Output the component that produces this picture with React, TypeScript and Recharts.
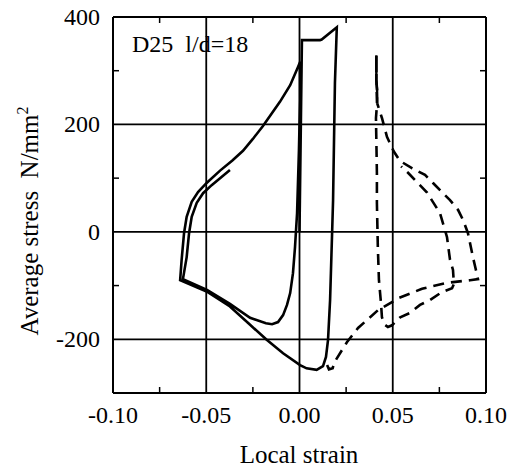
import { LineChart, Line, XAxis, YAxis, ReferenceLine } from 'recharts';

// solid loop (strain, stress) in drawing order
const solidStrain = [
  0.0, 0.0013, 0.011, 0.0119, 0.020, 0.019, 0.018, 0.0175, 0.0164, 0.0153, 0.0142, 0.0126, 0.0092, 0.0038,
  0.0003, -0.0088, -0.0176, -0.0265, -0.0373, -0.0498, -0.064,
  -0.0632, -0.0619, -0.0605, -0.0578, -0.0544, -0.0498, -0.0426, -0.036, -0.0303, -0.025, -0.0196, -0.0105, -0.005,
  -0.0008, 0.0003,
  0.0003, -0.0003, -0.0013, -0.0024, -0.0035, -0.005, -0.0067, -0.0088, -0.0115, -0.0147, -0.018, -0.0265,
  -0.0373, -0.0496, -0.0625,
  -0.0605, -0.0592, -0.0578, -0.0551, -0.0517, -0.0471, -0.0373,
];
const solidStress = [
  0, 357, 357, 358, 381, 277, 59, 0, -127, -201, -233, -250, -257, -254,
  -248, -226, -201, -173, -139, -111, -90,
  -52, -2, 28, 56, 74, 91, 114, 133, 151, 173, 197, 242, 273,
  307, 316,
  245, 152, 35, -28, -77, -114, -136, -155, -168, -172, -170, -160,
  -134, -108, -88,
  -47, -2, 28, 54, 72, 87, 115,
];

// dashed loop (strain, stress) in drawing order
const dashedStrain = [
  0.0148, 0.0158, 0.0178, 0.0185, 0.0255, 0.0314, 0.042, 0.0534, 0.0657, 0.079, 0.0914, 0.0957,
  0.0946, 0.093, 0.0903, 0.0877, 0.085, 0.0807, 0.0769, 0.0716, 0.0673, 0.0605, 0.0539, 0.0505,
  0.0469, 0.0442, 0.0416, 0.0416, 0.0412, 0.0412,
  0.0412, 0.0416, 0.041, 0.0415, 0.0415, 0.042, 0.0426, 0.0437, 0.0442, 0.0458, 0.0474, 0.0496,
  0.054, 0.0592, 0.0646, 0.070, 0.0764, 0.0818, 0.0828,
  0.0823, 0.0807, 0.0791, 0.0753, 0.0684, 0.0582, 0.0545,
];
const dashedStress = [
  -248, -256, -254, -244, -205, -179, -146, -123, -106, -95, -90, -88,
  -71, -47, -2, 22, 41, 59, 72, 91, 106, 118, 132, 150,
  177, 212, 240, 264, 283, 329,
  283, 240, 212, 110, 54, -28, -90, -133, -159, -173, -177, -174,
  -159, -151, -136, -127, -112, -105, -97,
  -71, -52, -10, 35, 73, 110, 122,
];

const xTicks = [-0.1, -0.075, -0.05, -0.025, 0, 0.025, 0.05, 0.075, 0.1];
const xLabels = [-0.1, -0.05, 0, 0.05, 0.1];
const yTicks = [-300, -200, -100, 0, 100, 200, 300, 400];
const yLabels = [400, 200, 0, -200];
const gridX = [-0.05, 0, 0.05];
const gridY = [200, 0, -200];

const solidData = solidStrain.map((x, i) => ({ x, y: solidStress[i] }));
const dashedData = dashedStrain.map((x, i) => ({ x, y: dashedStress[i] }));
// the top stretch of the dashed trace is drawn as one unbroken stroke
const dashedTopData = dashedData.slice(26, 30);

const W = 519;
const H = 468;
const TOP = 17;
const BOTTOM = 393;
const LEFT = 113;
const RIGHT = 486;
const FONT = '"Liberation Serif", "Times New Roman", serif';

function XTick(props: any) {
  const { x, payload } = props;
  const v = payload.value;
  if (xLabels.includes(v)) {
    return (
      <text x={x} y={BOTTOM + 30} textAnchor="middle" fontSize={24} fontFamily={FONT} fill="#000">
        {v.toFixed(2)}
      </text>
    );
  }
  return (
    <g stroke="#000" strokeWidth={1.5}>
      <line x1={x} x2={x} y1={BOTTOM} y2={BOTTOM - 6} />
      <line x1={x} x2={x} y1={TOP} y2={TOP + 6} />
    </g>
  );
}

function YTick(props: any) {
  const { y, payload } = props;
  const v = payload.value;
  if (yLabels.includes(v)) {
    return (
      <text x={LEFT - 13} y={y + 8} textAnchor="end" fontSize={24} fontFamily={FONT} fill="#000">
        {v}
      </text>
    );
  }
  if (v === -300) return <g />;
  return (
    <g stroke="#000" strokeWidth={1.5}>
      <line x1={LEFT} x2={LEFT + 6} y1={y} y2={y} />
      <line x1={RIGHT} x2={RIGHT - 6} y1={y} y2={y} />
    </g>
  );
}

export default function App() {
  return (
    <div style={{ position: 'absolute', left: 0, top: 0, width: W, height: H, background: '#fff' }}>
      <LineChart width={W} height={H} margin={{ top: TOP, right: W - RIGHT, bottom: 15, left: 13 }}>
        <XAxis
          type="number"
          dataKey="x"
          domain={[-0.1, 0.1]}
          ticks={xTicks}
          interval={0}
          allowDataOverflow
          height={60}
          tickLine={false}
          axisLine={{ stroke: '#000', strokeWidth: 2 }}
          tick={<XTick />}
        />
        <YAxis
          type="number"
          dataKey="y"
          domain={[-300, 400]}
          ticks={yTicks}
          interval={0}
          allowDataOverflow
          width={100}
          tickLine={false}
          axisLine={{ stroke: '#000', strokeWidth: 2 }}
          tick={<YTick />}
        />
        {gridX.map((v) => (
          <ReferenceLine key={'gx' + v} x={v} stroke="#000" strokeWidth={1.8} />
        ))}
        {gridY.map((v) => (
          <ReferenceLine key={'gy' + v} y={v} stroke="#000" strokeWidth={1.8} />
        ))}
        <ReferenceLine x={0.1} stroke="#000" strokeWidth={2} ifOverflow="visible" />
        <ReferenceLine y={400} stroke="#000" strokeWidth={2} ifOverflow="visible" />
        <Line
          data={solidData}
          dataKey="y"
          type="linear"
          stroke="#000"
          strokeWidth={2.6}
          dot={false}
          activeDot={false}
          isAnimationActive={false}
        />
        <Line
          data={dashedData}
          dataKey="y"
          type="linear"
          stroke="#000"
          strokeWidth={2.6}
          strokeDasharray="11 7"
          dot={false}
          activeDot={false}
          isAnimationActive={false}
        />
        <Line
          data={dashedTopData}
          dataKey="y"
          type="linear"
          stroke="#000"
          strokeWidth={2.4}
          dot={false}
          activeDot={false}
          isAnimationActive={false}
        />
      </LineChart>
      <svg
        width={W}
        height={H}
        style={{ position: 'absolute', left: 0, top: 0, pointerEvents: 'none' }}
        fontFamily={FONT}
        fill="#000"
      >
        <text x={132} y={52} fontSize={24}>D25&#160;&#160;l/d=18</text>
        <text x={299} y={463} fontSize={25} textAnchor="middle">Local strain</text>
        <text x={38} y={221} fontSize={25} textAnchor="middle" transform="rotate(-90 38 221)">
          Average stress&#160;&#160;N/mm<tspan fontSize={16} dy={-10}>2</tspan>
        </text>
      </svg>
    </div>
  );
}
